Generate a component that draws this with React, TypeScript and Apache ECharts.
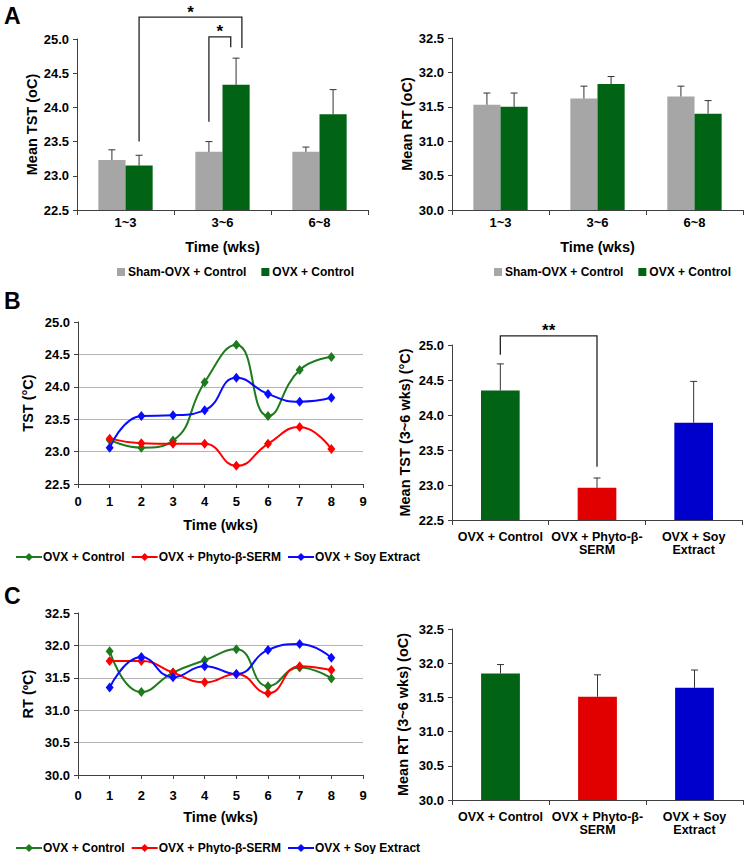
import React, { useEffect, useRef } from "react";
import * as echarts from "echarts";

// ---------- data ----------
const timeCategories = ["1~3", "3~6", "6~8"];
const tstSham = [23.23, 23.35, 23.35];
const tstShamErr = [0.15, 0.15, 0.07];
const tstOvx = [23.15, 24.33, 23.9];
const tstOvxErr = [0.15, 0.39, 0.36];
const rtSham = [31.53, 31.62, 31.65];
const rtShamErr = [0.17, 0.18, 0.15];
const rtOvx = [31.5, 31.83, 31.4];
const rtOvxErr = [0.2, 0.11, 0.19];

const weeks = [1, 2, 3, 4, 5, 6, 7, 8];
const tstControl = [23.18, 23.06, 23.17, 24.07, 24.65, 23.55, 24.26, 24.46];
const tstPhyto = [23.2, 23.13, 23.12, 23.12, 22.78, 23.12, 23.38, 23.04];
const tstSoy = [23.06, 23.55, 23.56, 23.64, 24.14, 23.89, 23.77, 23.83];
const rtControl = [31.91, 31.28, 31.58, 31.77, 31.94, 31.37, 31.66, 31.49];
const rtPhyto = [31.76, 31.76, 31.58, 31.43, 31.56, 31.26, 31.68, 31.62];
const rtSoy = [31.35, 31.82, 31.51, 31.68, 31.56, 31.93, 32.02, 31.81];

const groupCategories = ["OVX + Control", "OVX + Phyto-β-\nSERM", "OVX + Soy\nExtract"];
const tstMean36 = [24.35, 22.96, 23.89];
const tstErr36 = [0.38, 0.14, 0.59];
const rtMean36 = [31.85, 31.51, 31.64];
const rtErr36 = [0.13, 0.32, 0.26];

const tstRange = [22.5, 25.0];
const rtRange = [30.0, 32.5];
const weekRange = [0, 9];

const lineNames = ["OVX + Control", "OVX + Phyto-β-SERM", "OVX + Soy Extract"];
const barNamesA = ["Sham-OVX + Control", "OVX + Control"];

// significance brackets: [x1 category, x1 band offset, y1, x2 category, x2 band offset, y2, top]
const sigTstA = [
  [0, 0.14, 23.5, 1, 0.2, 24.87, 25.32],
  [1, -0.14, 23.79, 1, 0.085, 24.88, 25.03],
];
const sigTstALabels = ["*", "*"];
const sigTstB = [[0, 0, 24.86, 1, 0, 23.26, 25.13]];
const sigTstBLabels = ["**"];

// ---------- style ----------
const FONT = "'Liberation Sans', Arial, Helvetica, sans-serif";
const GRAY = "#a6a6a6";
const GREEN_BAR = "#006414";
const RED_BAR = "#e00000";
const BLUE_BAR = "#0000cc";
const GREEN_LINE = "#1d7a1d";
const RED_LINE = "#ff0000";
const BLUE_LINE = "#0a0aff";
const AXIS = "#404040";

function errorRender(offsetFrac: number) {
  return (params: any, api: any) => {
    const idx = api.value(0);
    const v = api.value(1);
    const e = api.value(2);
    const band = api.size([1, 0])[0];
    const base = api.coord([idx, v]);
    const top = api.coord([idx, v + e]);
    const x = base[0] + band * offsetFrac;
    const style = { stroke: "#333333", lineWidth: 1 };
    return {
      type: "group",
      children: [
        { type: "line", shape: { x1: x, y1: base[1], x2: x, y2: top[1] }, style },
        { type: "line", shape: { x1: x - 3.5, y1: top[1], x2: x + 3.5, y2: top[1] }, style },
      ],
    };
  };
}

function bracketRender(labels: string[], fontSize: number) {
  return (params: any, api: any) => {
    const band = api.size([1, 0])[0];
    const p1 = api.coord([api.value(0), api.value(2)]);
    const p2 = api.coord([api.value(3), api.value(5)]);
    const pt = api.coord([api.value(0), api.value(6)]);
    const x1 = p1[0] + band * api.value(1);
    const x2 = p2[0] + band * api.value(4);
    const yt = pt[1];
    return {
      type: "group",
      children: [
        {
          type: "polyline",
          shape: { points: [[x1, p1[1]], [x1, yt], [x2, yt], [x2, p2[1]]] },
          style: { stroke: "#222222", lineWidth: 1.3, fill: "none" },
        },
        {
          type: "text",
          style: {
            x: (x1 + x2) / 2,
            y: yt - 5,
            text: labels[params.dataIndex],
            fontSize,
            fontWeight: "bold",
            fontFamily: FONT,
            fill: "#000",
            align: "center",
            verticalAlign: "middle",
          },
        },
      ],
    };
  };
}

const labelStyle = { color: "#000", fontWeight: "bold" as const, fontSize: 13, fontFamily: FONT };
const nameStyle = { color: "#000", fontWeight: "bold" as const, fontSize: 14.5, fontFamily: FONT };

function valueY(gridIndex: number, range: number[], name: string, nameGap: number, grid: boolean) {
  return {
    type: "value",
    gridIndex,
    min: range[0],
    max: range[1],
    interval: 0.5,
    name,
    nameLocation: "middle",
    nameGap,
    nameTextStyle: nameStyle,
    axisLine: { show: true, lineStyle: { color: AXIS, width: 1 } },
    axisTick: { show: true, length: 4, lineStyle: { color: AXIS } },
    axisLabel: { ...labelStyle, margin: 8, formatter: (v: number) => v.toFixed(1) },
    splitLine: grid
      ? { show: true, showMinLine: false, showMaxLine: false, lineStyle: { color: "#b3b3b3", width: 1 } }
      : { show: false },
  };
}

function categoryX(gridIndex: number, data: string[], name: string, margin: number, fontSize: number) {
  return {
    type: "category",
    gridIndex,
    data,
    name,
    nameLocation: "middle",
    nameGap: 29,
    nameTextStyle: nameStyle,
    axisLine: { show: true, lineStyle: { color: AXIS, width: 1 } },
    axisTick: { show: true, length: 5, alignWithLabel: false, lineStyle: { color: AXIS } },
    axisLabel: { ...labelStyle, fontSize, margin, lineHeight: 13, interval: 0 },
    splitLine: { show: false },
  };
}

function weekX(gridIndex: number, margin: number, nameGap: number) {
  return {
    type: "value",
    gridIndex,
    min: weekRange[0],
    max: weekRange[1],
    interval: 1,
    name: "Time (wks)",
    nameLocation: "middle",
    nameGap,
    nameTextStyle: nameStyle,
    axisLine: { show: true, lineStyle: { color: AXIS, width: 1 } },
    axisTick: { show: true, length: 4, lineStyle: { color: AXIS } },
    axisLabel: { ...labelStyle, margin },
    splitLine: { show: false },
  };
}

function lineSeries(name: string, values: number[], color: string, axis: number) {
  return {
    type: "line",
    name,
    xAxisIndex: axis,
    yAxisIndex: axis,
    data: weeks.map((w, i) => [w, values[i]]),
    smooth: 0.5,
    symbol: "diamond",
    symbolSize: [8, 10],
    lineStyle: { color, width: 2 },
    itemStyle: { color },
    z: 3,
  };
}

export default function App() {
  const ref = useRef<HTMLDivElement>(null);
  useEffect(() => {
    if (!ref.current) return;
    const chart = echarts.init(ref.current, undefined, { renderer: "svg" });
    const aNames = barNamesA.map((n) => n + " (A)");
    const option: any = {
      animation: false,
      backgroundColor: "#ffffff",
      textStyle: { fontFamily: FONT },
      grid: [
        { left: 77, top: 39, width: 291, height: 171 },
        { left: 452, top: 38, width: 291, height: 172 },
        { left: 78, top: 322, width: 285, height: 162 },
        { left: 452, top: 345, width: 290, height: 175 },
        { left: 78, top: 613, width: 285, height: 162 },
        { left: 452, top: 629, width: 291, height: 171 },
      ],
      xAxis: [
        categoryX(0, timeCategories, "Time (wks)", 6, 13),
        categoryX(1, timeCategories, "Time (wks)", 6, 13),
        weekX(2, 11, 33),
        categoryX(3, groupCategories, "", 10, 12.5),
        weekX(4, 14, 34),
        categoryX(5, groupCategories, "", 10, 12.5),
      ],
      yAxis: [
        valueY(0, tstRange, "Mean TST (oC)", 38, false),
        valueY(1, rtRange, "Mean RT (oC)", 37, false),
        valueY(2, tstRange, "TST (°C)", 43, true),
        valueY(3, tstRange, "Mean TST (3~6 wks) (°C)", 40, false),
        valueY(4, rtRange, "RT (ºC)", 43, true),
        valueY(5, rtRange, "Mean RT (3~6 wks) (oC)", 42, false),
      ],
      legend: [
        {
          data: aNames,
          left: 112,
          top: 261,
          icon: "rect",
          itemWidth: 8,
          itemHeight: 8,
          itemGap: 15,
          selectedMode: false,
          formatter: (n: string) => n.replace(" (A)", ""),
          textStyle: { ...labelStyle, fontSize: 12, padding: [0, 0, 0, -2] },
        },
        {
          data: aNames,
          left: 489,
          top: 261,
          icon: "rect",
          itemWidth: 8,
          itemHeight: 8,
          itemGap: 15,
          selectedMode: false,
          formatter: (n: string) => n.replace(" (A)", ""),
          textStyle: { ...labelStyle, fontSize: 12, padding: [0, 0, 0, -2] },
        },
        {
          data: lineNames,
          left: 10,
          top: 546,
          itemWidth: 26,
          itemHeight: 10,
          itemGap: 6,
          selectedMode: false,
          textStyle: { ...labelStyle, fontSize: 12, padding: [0, 0, 0, -4] },
        },
        {
          data: lineNames,
          left: 10,
          top: 837,
          itemWidth: 26,
          itemHeight: 10,
          itemGap: 6,
          selectedMode: false,
          textStyle: { ...labelStyle, fontSize: 12, padding: [0, 0, 0, -4] },
        },
      ],
      graphic: [
        { type: "text", left: 4, top: 4, style: { text: "A", fontSize: 23, fontWeight: "bold", fontFamily: FONT, fill: "#000" } },
        { type: "text", left: 4, top: 289, style: { text: "B", fontSize: 23, fontWeight: "bold", fontFamily: FONT, fill: "#000" } },
        { type: "text", left: 4, top: 584, style: { text: "C", fontSize: 23, fontWeight: "bold", fontFamily: FONT, fill: "#000" } },
      ],
      series: [
        // A left
        { type: "bar", name: aNames[0], xAxisIndex: 0, yAxisIndex: 0, data: tstSham, barWidth: "28%", barGap: "0%", itemStyle: { color: GRAY } },
        { type: "bar", name: aNames[1], xAxisIndex: 0, yAxisIndex: 0, data: tstOvx, barWidth: "28%", barGap: "0%", itemStyle: { color: GREEN_BAR } },
        { type: "custom", xAxisIndex: 0, yAxisIndex: 0, renderItem: errorRender(-0.14), data: tstSham.map((v, i) => [i, v, tstShamErr[i]]), encode: { x: 0, y: 1 }, z: 4 },
        { type: "custom", xAxisIndex: 0, yAxisIndex: 0, renderItem: errorRender(0.14), data: tstOvx.map((v, i) => [i, v, tstOvxErr[i]]), encode: { x: 0, y: 1 }, z: 4 },
        { type: "custom", xAxisIndex: 0, yAxisIndex: 0, renderItem: bracketRender(sigTstALabels, 17), data: sigTstA, encode: { x: 0, y: 2 }, clip: false, z: 5 },
        // A right
        { type: "bar", name: aNames[0], xAxisIndex: 1, yAxisIndex: 1, data: rtSham, barWidth: "28%", barGap: "0%", itemStyle: { color: GRAY } },
        { type: "bar", name: aNames[1], xAxisIndex: 1, yAxisIndex: 1, data: rtOvx, barWidth: "28%", barGap: "0%", itemStyle: { color: GREEN_BAR } },
        { type: "custom", xAxisIndex: 1, yAxisIndex: 1, renderItem: errorRender(-0.14), data: rtSham.map((v, i) => [i, v, rtShamErr[i]]), encode: { x: 0, y: 1 }, z: 4 },
        { type: "custom", xAxisIndex: 1, yAxisIndex: 1, renderItem: errorRender(0.14), data: rtOvx.map((v, i) => [i, v, rtOvxErr[i]]), encode: { x: 0, y: 1 }, z: 4 },
        // B left
        lineSeries(lineNames[0], tstControl, GREEN_LINE, 2),
        lineSeries(lineNames[1], tstPhyto, RED_LINE, 2),
        lineSeries(lineNames[2], tstSoy, BLUE_LINE, 2),
        // B right
        {
          type: "bar",
          name: "TST 3~6",
          xAxisIndex: 3,
          yAxisIndex: 3,
          barWidth: "40%",
          data: tstMean36.map((v, i) => ({ value: v, itemStyle: { color: [GREEN_BAR, RED_BAR, BLUE_BAR][i] } })),
        },
        { type: "custom", xAxisIndex: 3, yAxisIndex: 3, renderItem: errorRender(0), data: tstMean36.map((v, i) => [i, v, tstErr36[i]]), encode: { x: 0, y: 1 }, z: 4 },
        { type: "custom", xAxisIndex: 3, yAxisIndex: 3, renderItem: bracketRender(sigTstBLabels, 17), data: sigTstB, encode: { x: 0, y: 2 }, clip: false, z: 5 },
        // C left
        lineSeries(lineNames[0], rtControl, GREEN_LINE, 4),
        lineSeries(lineNames[1], rtPhyto, RED_LINE, 4),
        lineSeries(lineNames[2], rtSoy, BLUE_LINE, 4),
        // C right
        {
          type: "bar",
          name: "RT 3~6",
          xAxisIndex: 5,
          yAxisIndex: 5,
          barWidth: "40%",
          data: rtMean36.map((v, i) => ({ value: v, itemStyle: { color: [GREEN_BAR, RED_BAR, BLUE_BAR][i] } })),
        },
        { type: "custom", xAxisIndex: 5, yAxisIndex: 5, renderItem: errorRender(0), data: rtMean36.map((v, i) => [i, v, rtErr36[i]]), encode: { x: 0, y: 1 }, z: 4 },
      ],
    };
    chart.setOption(option);
    return () => chart.dispose();
  }, []);
  return (
    <div
      ref={ref}
      style={{ position: "absolute", left: 0, top: 0, width: 750, height: 854, background: "#fff" }}
    />
  );
}
